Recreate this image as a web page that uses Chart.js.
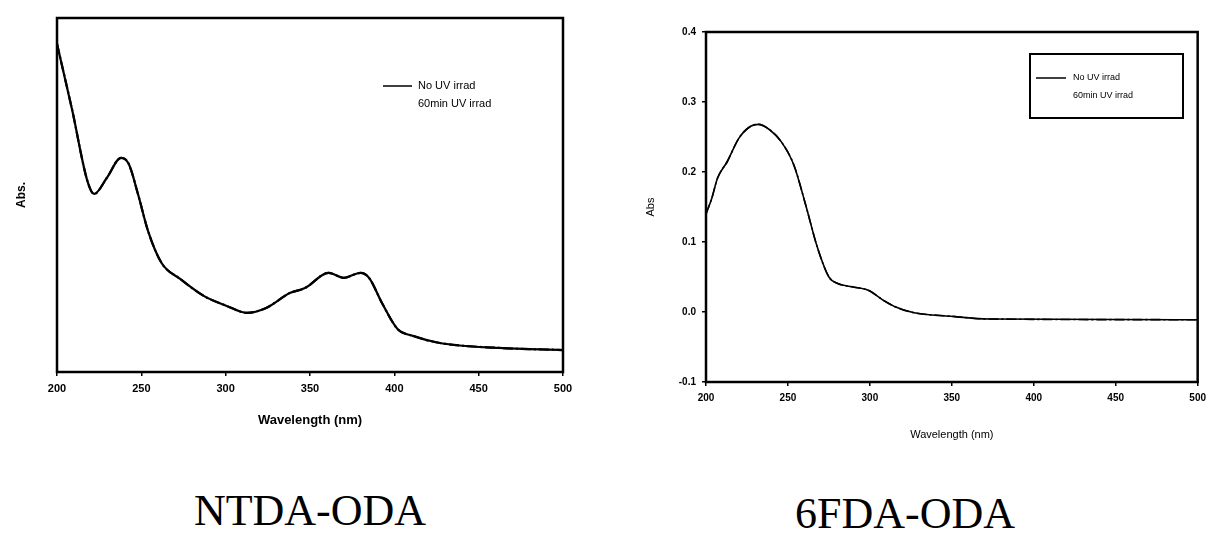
<!DOCTYPE html>
<html>
<head>
<meta charset="utf-8">
<script src="https://cdn.jsdelivr.net/npm/chart.js@4.4.1/dist/chart.umd.min.js"></script>
<style>
  body { margin: 0; background: #fff; width: 1212px; height: 541px; position: relative; overflow: hidden; }
  .wrap { position: absolute; top: 0; }
  .cap { position: absolute; font-family: "Liberation Serif", "Times New Roman", serif; font-size: 44px; color: #000; text-align: center; }
</style>
</head>
<body>
<div class="wrap" style="left:0;width:600px;height:450px"><canvas id="ntdaChart" width="600" height="450"></canvas></div>
<div class="wrap" style="left:600px;width:612px;height:460px"><canvas id="fdaChart" width="612" height="460"></canvas></div>
<div class="cap" style="left:160px;width:300px;top:485px">NTDA-ODA</div>
<div class="cap" style="left:755px;width:300px;top:488px">6FDA-ODA</div>
<script>
// Dados
const legendLabels = ['No UV irrad', '60min UV irrad'];
const xTicks = [200, 250, 300, 350, 400, 450, 500];
const fdaYTicks = [-0.1, 0.0, 0.1, 0.2, 0.3, 0.4];

// NTDA-ODA (eixo y sem escala, 0..1)
const ntdaWave = [200, 209, 218, 222, 229.5, 238, 242.5, 248, 254, 262, 273, 287, 301, 312.5, 324, 338, 347, 361, 370, 380, 385, 393, 402, 411, 427, 462, 500];
const ntdaAbs = [0.927, 0.74, 0.540, 0.503, 0.548, 0.605, 0.588, 0.503, 0.398, 0.308, 0.263, 0.215, 0.186, 0.167, 0.181, 0.223, 0.237, 0.280, 0.266, 0.280, 0.266, 0.192, 0.121, 0.102, 0.082, 0.068, 0.062];

// 6FDA-ODA
const fdaWave = [200, 203.6, 207, 213, 220, 227, 232, 239, 246, 253.6, 260.7, 268, 275, 280, 289, 299, 308, 315, 327, 349, 372.6, 500];
const fdaAbs = [0.140, 0.163, 0.191, 0.215, 0.248, 0.265, 0.268, 0.260, 0.243, 0.210, 0.154, 0.092, 0.050, 0.041, 0.036, 0.031, 0.017, 0.008, -0.001, -0.006, -0.010, -0.011];

const toPoints = (xs, ys) => xs.map((x, i) => ({ x: x, y: ys[i] }));

// Moldura + legenda desenhadas por plugin
function framePlugin(opts) {
    return {
        id: 'frameLegend',
        afterDraw(chart) {
            const ctx = chart.ctx;
            const a = chart.chartArea;
            ctx.save();
            ctx.strokeStyle = '#000';
            ctx.lineWidth = opts.frameWidth;
            ctx.strokeRect(a.left, a.top, a.right - a.left, a.bottom - a.top);
            if (opts.box) {
                ctx.lineWidth = 2;
                ctx.strokeRect(a.left + opts.box.x, a.top + opts.box.y, opts.box.w, opts.box.h);
            }
            const lx = a.left + opts.legend.x;
            const ly = a.top + opts.legend.y;
            ctx.lineWidth = 1.5;
            ctx.beginPath();
            ctx.moveTo(lx, ly);
            ctx.lineTo(lx + opts.legend.len, ly);
            ctx.stroke();
            ctx.fillStyle = '#000';
            ctx.font = opts.legend.font;
            ctx.textBaseline = 'middle';
            ctx.fillText(legendLabels[0], lx + opts.legend.len + opts.legend.gap, ly);
            ctx.fillText(legendLabels[1], lx + opts.legend.len + opts.legend.gap, ly + opts.legend.step);
            ctx.restore();
        }
    };
}

function makeDatasets(xs, ys, width) {
    return [{
        label: legendLabels[0],
        data: toPoints(xs, ys),
        borderColor: '#000',
        borderWidth: width,
        pointRadius: 0,
        cubicInterpolationMode: 'monotone',
        fill: false
    }, {
        label: legendLabels[1],
        data: toPoints(xs, ys),
        borderColor: '#000',
        borderWidth: width,
        borderDash: [10, 3, 2, 3],
        pointRadius: 0,
        cubicInterpolationMode: 'monotone',
        fill: false
    }];
}

// Gráfico NTDA-ODA
new Chart(document.getElementById('ntdaChart').getContext('2d'), {
    type: 'line',
    data: { datasets: makeDatasets(ntdaWave, ntdaAbs, 2.2) },
    options: {
        responsive: false,
        animation: false,
        layout: { padding: { left: 10, right: 37, top: 18, bottom: 18 } },
        plugins: { legend: { display: false }, tooltip: { enabled: false } },
        scales: {
            x: {
                type: 'linear', min: 200, max: 500,
                afterBuildTicks: s => { s.ticks = xTicks.map(v => ({ value: v })); },
                afterFit: s => { s.height = 60; },
                grid: { display: true, drawOnChartArea: false, tickLength: 4, color: '#000', lineWidth: 1.5 },
                border: { color: '#000', width: 2 },
                ticks: { color: '#000', padding: 6, maxRotation: 0, font: { family: 'Liberation Sans', size: 11, weight: 'bold' } },
                title: { display: true, text: 'Wavelength (nm)', color: '#000', padding: { top: 4, bottom: 4 }, font: { family: 'Liberation Sans', size: 13, weight: 'bold' } }
            },
            y: {
                min: 0, max: 1,
                afterFit: s => { s.width = 47; },
                grid: { display: false },
                border: { color: '#000', width: 2 },
                ticks: { display: false },
                title: { display: true, text: 'Abs.', color: '#000', padding: { top: 4, bottom: 4 }, font: { family: 'Liberation Sans', size: 12, weight: 'bold' } }
            }
        }
    },
    plugins: [framePlugin({
        frameWidth: 2.5,
        legend: { x: 326, y: 68, len: 29, gap: 6, step: 18, font: '11px "Liberation Sans"' }
    })]
});

// Gráfico 6FDA-ODA
new Chart(document.getElementById('fdaChart').getContext('2d'), {
    type: 'line',
    data: { datasets: makeDatasets(fdaWave, fdaAbs, 1.6) },
    options: {
        responsive: false,
        animation: false,
        layout: { padding: { left: 40, right: 14, top: 32, bottom: 14 } },
        plugins: { legend: { display: false }, tooltip: { enabled: false } },
        scales: {
            x: {
                type: 'linear', min: 200, max: 500,
                afterBuildTicks: s => { s.ticks = xTicks.map(v => ({ value: v })); },
                afterFit: s => { s.height = 64; },
                grid: { display: true, drawOnChartArea: false, tickLength: 4, color: '#000', lineWidth: 1.5 },
                border: { color: '#000', width: 2 },
                ticks: { color: '#000', padding: 6, maxRotation: 0, font: { family: 'Liberation Sans', size: 10, weight: 'bold' } },
                title: { display: true, text: 'Wavelength (nm)', color: '#000', padding: { top: 4, bottom: 4 }, font: { family: 'Liberation Sans', size: 11 } }
            },
            y: {
                min: -0.1, max: 0.4,
                afterBuildTicks: s => { s.ticks = fdaYTicks.map(v => ({ value: v })); },
                afterFit: s => { s.width = 66; },
                grid: { display: true, drawOnChartArea: false, tickLength: 4, color: '#000', lineWidth: 1.5 },
                border: { color: '#000', width: 2 },
                ticks: { color: '#000', padding: 6, font: { family: 'Liberation Sans', size: 10, weight: 'bold' }, callback: v => v.toFixed(1) },
                title: { display: true, text: 'Abs', color: '#000', padding: { top: 4, bottom: 4 }, font: { family: 'Liberation Sans', size: 11 } }
            }
        }
    },
    plugins: [framePlugin({
        frameWidth: 2.5,
        box: { x: 324, y: 22, w: 153, h: 64 },
        legend: { x: 330, y: 46, len: 30, gap: 7, step: 18, font: '9px "Liberation Sans"' }
    })]
});
</script>
</body>
</html>
